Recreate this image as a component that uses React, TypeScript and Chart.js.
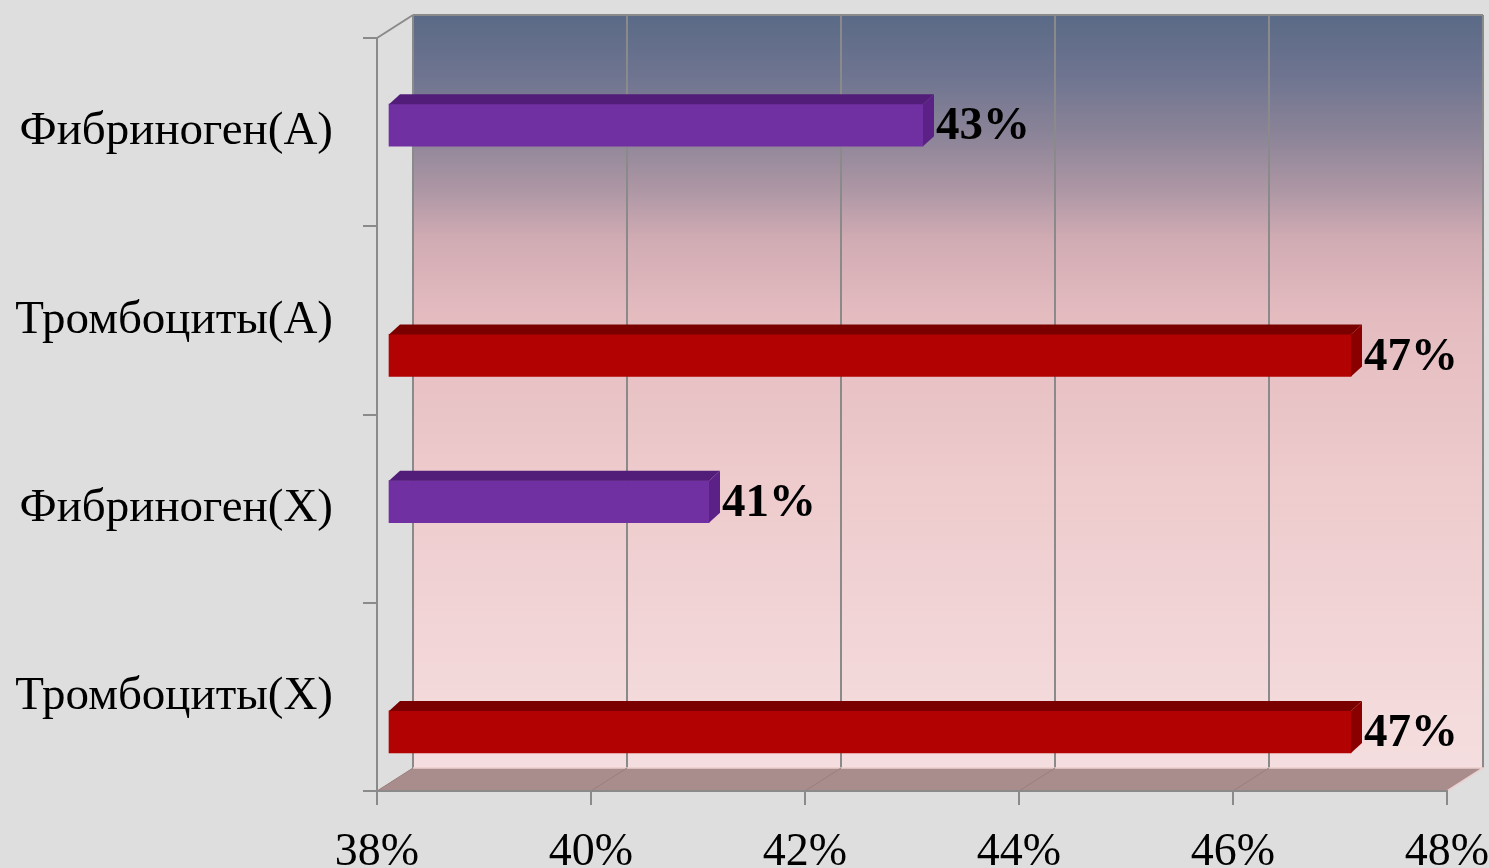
import React, { useEffect, useRef } from "react";
import { Chart, registerables } from "chart.js";

Chart.register(...registerables);

// Categories, top to bottom
const categories = ["Фибриноген(А)", "Тромбоциты(А)", "Фибриноген(Х)", "Тромбоциты(Х)"];
// Series values, percent
const fibrinogenValues: (number | null)[] = [43, null, 41, null];
const plateletValues: (number | null)[] = [null, 47, null, 47];
// Value axis range and step
const axisMin = 38;
const axisMax = 48;
const axisStep = 2;

const WIDTH = 1489;
const HEIGHT = 868;

// 3D depth of the walls (back wall offset from the front plane)
const WALL_DX = 36;
const WALL_DY = -23;
// where the bars sit in depth, and the depth of the bars themselves
const BAR_DX = 11;
const BAR_DY = 14;
const FACE_DX = 11;
const FACE_DY = -10;

const AXIS_GREY = "#8a8a8a";
const SERIF = "'Liberation Serif', 'Times New Roman', serif";

const faceColors: Record<number, { top: string; side: string; front: string }> = {
  0: { top: "#521d78", side: "#5c2186", front: "#7030a2" },
  1: { top: "#7a0000", side: "#8a0000", front: "#b20202" },
};

const chart3d = {
  id: "chart3d",
  beforeDraw(chart: any) {
    const { ctx, chartArea } = chart;
    const { left, right, top, bottom } = chartArea;
    const xs = chart.scales.x;
    ctx.save();
    // page background
    ctx.fillStyle = "#dedede";
    ctx.fillRect(0, 0, WIDTH, HEIGHT);

    // back wall
    const bl = left + WALL_DX, br = right + WALL_DX, bt = top + WALL_DY, bb = bottom + WALL_DY;
    const g = ctx.createLinearGradient(0, bt, 0, bb);
    g.addColorStop(0, "#5a6a86");
    g.addColorStop(0.08, "#6e7490");
    g.addColorStop(0.16, "#8c8498");
    g.addColorStop(0.23, "#ac96a4");
    g.addColorStop(0.3, "#d2acb4");
    g.addColorStop(0.4, "#e4bcc0");
    g.addColorStop(0.62, "#eecbcd");
    g.addColorStop(1, "#f5dedf");
    ctx.fillStyle = g;
    ctx.fillRect(bl, bt, br - bl, bb - bt);

    // back wall gridlines
    ctx.strokeStyle = AXIS_GREY;
    ctx.lineWidth = 2;
    for (let v = axisMin; v <= axisMax; v += axisStep) {
      const px = Math.round(xs.getPixelForValue(v)) + WALL_DX;
      ctx.beginPath();
      ctx.moveTo(px, bt);
      ctx.lineTo(px, bb);
      ctx.stroke();
    }
    ctx.beginPath();
    ctx.moveTo(bl, bt);
    ctx.lineTo(br, bt);
    ctx.stroke();

    // floor
    ctx.fillStyle = "#a98d8d";
    ctx.beginPath();
    ctx.moveTo(left, bottom);
    ctx.lineTo(right, bottom);
    ctx.lineTo(br, bb);
    ctx.lineTo(bl, bb);
    ctx.closePath();
    ctx.fill();
    ctx.strokeStyle = "#eccfd0";
    ctx.lineWidth = 1.5;
    ctx.beginPath();
    ctx.moveTo(bl, bb);
    ctx.lineTo(br, bb);
    ctx.lineTo(right, bottom);
    ctx.stroke();
    ctx.strokeStyle = "#9a7e80";
    ctx.lineWidth = 1;
    for (let v = axisMin; v < axisMax; v += axisStep) {
      const px = xs.getPixelForValue(v);
      ctx.beginPath();
      ctx.moveTo(px, bottom);
      ctx.lineTo(px + WALL_DX, bb);
      ctx.stroke();
    }

    // wall edge connecting the front axis to the back wall
    ctx.strokeStyle = AXIS_GREY;
    ctx.lineWidth = 2;
    ctx.beginPath();
    ctx.moveTo(left, top);
    ctx.lineTo(bl, bt);
    ctx.stroke();
    ctx.restore();
  },
  beforeDatasetsDraw(chart: any) {
    chart.ctx.save();
    chart.ctx.translate(BAR_DX, BAR_DY);
  },
  afterDatasetsDraw(chart: any) {
    const { ctx } = chart;
    chart.data.datasets.forEach((ds: any, di: number) => {
      const meta = chart.getDatasetMeta(di);
      const colors = faceColors[di];
      meta.data.forEach((el: any, i: number) => {
        const value = ds.data[i];
        if (value == null) return;
        const { x, y, base, height } = el.getProps(["x", "y", "base", "height"], true);
        const t = y - height / 2;
        const b = y + height / 2;
        // top face
        ctx.fillStyle = colors.top;
        ctx.beginPath();
        ctx.moveTo(base, t);
        ctx.lineTo(x, t);
        ctx.lineTo(x + FACE_DX, t + FACE_DY);
        ctx.lineTo(base + FACE_DX, t + FACE_DY);
        ctx.closePath();
        ctx.fill();
        // right side face
        ctx.fillStyle = colors.side;
        ctx.beginPath();
        ctx.moveTo(x, t);
        ctx.lineTo(x + FACE_DX, t + FACE_DY);
        ctx.lineTo(x + FACE_DX, b + FACE_DY);
        ctx.lineTo(x, b);
        ctx.closePath();
        ctx.fill();
        // value label
        ctx.fillStyle = "#000";
        ctx.font = `bold 47px ${SERIF}`;
        ctx.textAlign = "left";
        ctx.textBaseline = "middle";
        ctx.fillText(`${value}%`, x + FACE_DX + 2, y + 2);
      });
    });
    ctx.restore();
  },
};

export default function App() {
  const ref = useRef<HTMLCanvasElement | null>(null);

  useEffect(() => {
    document.body.style.margin = "0";
    const canvas = ref.current;
    if (!canvas) return;
    const chart = new Chart(canvas, {
      type: "bar",
      data: {
        labels: categories,
        datasets: [
          {
            label: "Фибриноген",
            data: fibrinogenValues,
            base: axisMin,
            backgroundColor: faceColors[0].front,
            barThickness: 42,
            clip: false as any,
          },
          {
            label: "Тромбоциты",
            data: plateletValues,
            base: axisMin,
            backgroundColor: faceColors[1].front,
            barThickness: 42,
            clip: false as any,
          },
        ],
      },
      options: {
        indexAxis: "y",
        responsive: false,
        animation: false,
        devicePixelRatio: 1,
        layout: { padding: { top: 38, right: 42, left: 0, bottom: 0 } },
        plugins: { legend: { display: false }, tooltip: { enabled: false } },
        scales: {
          x: {
            type: "linear",
            min: axisMin,
            max: axisMax,
            ticks: {
              stepSize: axisStep,
              callback: (v: any) => `${v}%`,
              color: "#000",
              font: { family: SERIF, size: 46 },
              padding: 20,
              maxRotation: 0,
            },
            grid: { drawOnChartArea: false, tickLength: 14, color: AXIS_GREY, lineWidth: 2 },
            border: { display: true, color: AXIS_GREY, width: 2 },
            afterFit: (s: any) => {
              s.height = 77;
              s.paddingLeft = 0;
              s.paddingRight = 0;
            },
          },
          y: {
            type: "category",
            ticks: {
              color: "#000",
              font: { family: SERIF, size: 47 },
              padding: 30,
            },
            grid: { drawOnChartArea: false, tickLength: 14, color: AXIS_GREY, lineWidth: 2, offset: true },
            border: { display: true, color: AXIS_GREY, width: 2 },
            afterFit: (s: any) => {
              s.width = 377;
              s.paddingTop = 0;
              s.paddingBottom = 0;
            },
          },
        },
      },
      plugins: [chart3d],
    } as any);
    return () => chart.destroy();
  }, []);

  return (
    <div style={{ width: WIDTH, height: HEIGHT }}>
      <canvas ref={ref} width={WIDTH} height={HEIGHT} />
    </div>
  );
}
